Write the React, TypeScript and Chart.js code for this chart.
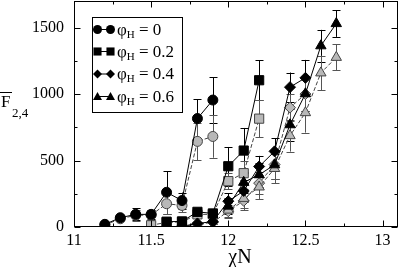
import React, { useEffect, useRef } from 'react';
import { Chart, registerables } from 'chart.js';
Chart.register(...registerables);

const FONT = '"Liberation Serif", "Times New Roman", serif';

const xTickLabels = [11, 11.5, 12, 12.5, 13];
const yTickLabels = [0, 500, 1000, 1500];

// phi_H = 0 (circles)
const x0Black = [11.2, 11.3, 11.4, 11.5, 11.6, 11.7, 11.8, 11.9];
const y0Black = [20, 70, 95, 95, 261, 199, 816, 955];
const e0Black = [10, 20, 45, 35, 160, 60, 145, 170];
const x0Gray = [11.2, 11.3, 11.4, 11.5, 11.6, 11.7, 11.8, 11.9];
const y0Gray = [15, 62, 88, 90, 175, 162, 644, 681];
const e0Gray = [10, 20, 40, 35, 80, 50, 140, 160];

// phi_H = 0.2 (squares)
const x2Black = [11.6, 11.7, 11.8, 11.9, 12.0, 12.1, 12.2];
const y2Black = [40, 42, 114, 102, 457, 575, 1104];
const e2Black = [10, 12, 25, 25, 145, 170, 150];
const x2Gray = [11.5, 11.6, 11.7, 11.8, 11.9, 12.0, 12.1, 12.2];
const y2Gray = [13, 35, 38, 95, 95, 345, 405, 815];
const e2Gray = [8, 10, 12, 20, 20, 60, 90, 140];

// phi_H = 0.4 (diamonds)
const x4Black = [11.7, 11.8, 11.9, 12.0, 12.1, 12.2, 12.3, 12.4, 12.5];
const y4Black = [5, 27, 40, 194, 271, 455, 569, 1052, 1122];
const e4Black = [5, 10, 15, 60, 80, 80, 100, 110, 135];
const x4Gray = [11.7, 11.8, 11.9, 12.0, 12.1, 12.2, 12.3, 12.4, 12.5];
const y4Gray = [4, 20, 35, 119, 197, 330, 470, 898, 1000];
const e4Gray = [5, 10, 15, 50, 70, 80, 110, 100, 130];

// phi_H = 0.6 (triangles)
const x6Black = [12.0, 12.1, 12.2, 12.3, 12.4, 12.5, 12.6, 12.7];
const y6Black = [157, 336, 393, 468, 769, 1002, 1363, 1530];
const e6Black = [60, 80, 90, 110, 120, 130, 120, 100];
const x6Gray = [12.0, 12.1, 12.2, 12.3, 12.4, 12.5, 12.6, 12.7];
const y6Gray = [127, 215, 301, 440, 687, 860, 1159, 1276];
const e6Gray = [50, 70, 90, 110, 120, 150, 130, 97];

const legendLabels = ['0', '0.2', '0.4', '0.6'];
const legendShapes = ['circle', 'rect', 'rectRot', 'triangle'];

const GRAY_FILL = '#b8b8b8';
const GRAY_LINE = '#444';

function mk(xs: number[], ys: number[], errs: number[], shape: string, black: boolean, radius: number) {
  return {
    data: xs.map((x, i) => ({ x, y: ys[i] })),
    errs,
    errColor: black ? '#000' : '#555',
    pointStyle: shape,
    pointRadius: radius,
    pointBackgroundColor: black ? '#000' : GRAY_FILL,
    pointBorderColor: black ? '#000' : GRAY_LINE,
    pointBorderWidth: 1,
    borderColor: black ? '#000' : GRAY_LINE,
    borderWidth: 1,
    borderDash: black ? [] : [4, 2],
    showLine: true,
    fill: false,
    tension: 0,
  };
}

function drawShape(ctx: CanvasRenderingContext2D, shape: string, x: number, y: number, r: number) {
  ctx.beginPath();
  if (shape === 'circle') {
    ctx.arc(x, y, r, 0, Math.PI * 2);
  } else if (shape === 'rect') {
    ctx.rect(x - r * 0.9, y - r * 0.9, r * 1.8, r * 1.8);
  } else if (shape === 'rectRot') {
    ctx.moveTo(x - r, y); ctx.lineTo(x, y - r); ctx.lineTo(x + r, y); ctx.lineTo(x, y + r); ctx.closePath();
  } else {
    ctx.moveTo(x - r, y + r * 0.8); ctx.lineTo(x, y - r); ctx.lineTo(x + r, y + r * 0.8); ctx.closePath();
  }
  ctx.fill();
}

const errorBarPlugin = {
  id: 'errorBars',
  beforeDatasetsDraw(chart: any) {
    const ctx = chart.ctx;
    const ys = chart.scales.y;
    chart.data.datasets.forEach((ds: any, di: number) => {
      const meta = chart.getDatasetMeta(di);
      ctx.save();
      ctx.strokeStyle = ds.errColor;
      ctx.lineWidth = 1;
      meta.data.forEach((pt: any, i: number) => {
        const v = ds.data[i].y;
        const e = ds.errs[i];
        const top = ys.getPixelForValue(v + e);
        const bot = ys.getPixelForValue(Math.max(v - e, 0));
        const x = Math.round(pt.x) + 0.5;
        ctx.beginPath();
        ctx.moveTo(x, top); ctx.lineTo(x, bot);
        ctx.moveTo(x - 4, Math.round(top) + 0.5); ctx.lineTo(x + 4, Math.round(top) + 0.5);
        if (v - e > 0) { ctx.moveTo(x - 4, Math.round(bot) + 0.5); ctx.lineTo(x + 4, Math.round(bot) + 0.5); }
        ctx.stroke();
      });
      ctx.restore();
    });
  },
};

const framePlugin = {
  id: 'frame',
  afterDraw(chart: any) {
    const ctx = chart.ctx;
    const { left, right, top, bottom } = chart.chartArea;
    const xs = chart.scales.x;
    const ys = chart.scales.y;
    ctx.save();
    ctx.strokeStyle = '#000';
    ctx.lineWidth = 1;
    const L = Math.round(left) + 0.5, R = Math.round(right) - 0.5, T = Math.round(top) + 0.5, B = Math.round(bottom) - 0.5;
    ctx.strokeRect(L, T, R - L, B - T);
    ctx.beginPath();
    for (let v = 11; v <= 13.001; v += 0.25) {
      const x = Math.round(xs.getPixelForValue(v)) + 0.5;
      const len = Math.abs(v * 2 - Math.round(v * 2)) < 1e-6 ? 6 : 3;
      ctx.moveTo(x, B); ctx.lineTo(x, B - len);
      ctx.moveTo(x, T); ctx.lineTo(x, T + len);
    }
    for (let v = 0; v <= 1700; v += 250) {
      const y = Math.round(ys.getPixelForValue(v)) + 0.5;
      const len = v % 500 === 0 ? 6 : 3;
      ctx.moveTo(L, y); ctx.lineTo(L + len, y);
      ctx.moveTo(R, y); ctx.lineTo(R - len, y);
    }
    ctx.stroke();

    // axis titles
    ctx.fillStyle = '#000';
    ctx.textBaseline = 'alphabetic';
    ctx.textAlign = 'center';
    ctx.font = `20px ${FONT}`;
    ctx.fillText('\u03C7N', 240, 263);
    ctx.textAlign = 'left';
    ctx.font = `17px ${FONT}`;
    ctx.fillText('F', 1, 107);
    ctx.beginPath();
    ctx.moveTo(0, 92.5); ctx.lineTo(12, 92.5);
    ctx.stroke();
    ctx.font = `13px ${FONT}`;
    ctx.fillText('2,4', 12, 117);

    // legend
    ctx.strokeRect(92.5, 17.5, 90, 95);
    const rowYs = [29.5, 51.5, 74, 96.5];
    legendLabels.forEach((lab, i) => {
      const y = rowYs[i];
      ctx.fillStyle = '#000';
      ctx.beginPath();
      ctx.moveTo(97, y); ctx.lineTo(111, y);
      ctx.stroke();
      drawShape(ctx, legendShapes[i], 97.5, y, 4.5);
      drawShape(ctx, legendShapes[i], 110.5, y, 4.5);
      ctx.font = `17px ${FONT}`;
      ctx.fillText('\u03C6', 117, y + 5);
      const w1 = ctx.measureText('\u03C6').width;
      ctx.font = `11px ${FONT}`;
      ctx.fillText('H', 117 + w1, y + 8);
      const w2 = ctx.measureText('H').width;
      ctx.font = `17px ${FONT}`;
      ctx.fillText(' = ' + lab, 117 + w1 + w2, y + 5);
    });
    ctx.restore();
  },
};

export default function App() {
  const ref = useRef<HTMLCanvasElement>(null);
  useEffect(() => {
    if (!ref.current) return;
    const datasets = [
      mk(x6Black, y6Black, e6Black, 'triangle', true, 6),
      mk(x4Black, y4Black, e4Black, 'rectRot', true, 5.5),
      mk(x2Black, y2Black, e2Black, 'rect', true, 6.5),
      mk(x0Black, y0Black, e0Black, 'circle', true, 5),
      mk(x6Gray, y6Gray, e6Gray, 'triangle', false, 6),
      mk(x4Gray, y4Gray, e4Gray, 'rectRot', false, 5.5),
      mk(x2Gray, y2Gray, e2Gray, 'rect', false, 6.5),
      mk(x0Gray, y0Gray, e0Gray, 'circle', false, 5),
    ];
    const chart = new Chart(ref.current, {
      type: 'scatter',
      data: { datasets: datasets as any },
      plugins: [errorBarPlugin, framePlugin],
      options: {
        animation: false,
        responsive: false,
        layout: { autoPadding: false, padding: { top: 1, right: 1, left: 0, bottom: 0 } },
        plugins: { legend: { display: false }, tooltip: { enabled: false } },
        scales: {
          x: {
            type: 'linear',
            min: 11,
            max: 13.1,
            afterBuildTicks: (s: any) => { s.ticks = xTickLabels.map((v) => ({ value: v })); },
            afterFit: (s: any) => { s.height = 40; s.paddingLeft = 0; s.paddingRight = 0; },
            grid: { display: false },
            border: { display: false },
            ticks: {
              color: '#000',
              font: { family: FONT, size: 16 },
              padding: -4,
              maxRotation: 0,
              autoSkip: false,
              callback: (v: any) => String(v),
            },
          },
          y: {
            type: 'linear',
            min: 0,
            max: 1700,
            afterBuildTicks: (s: any) => { s.ticks = yTickLabels.map((v) => ({ value: v })); },
            afterFit: (s: any) => { s.width = 74; s.paddingTop = 0; s.paddingBottom = 0; },
            grid: { display: false },
            border: { display: false },
            ticks: {
              color: '#000',
              font: { family: FONT, size: 16 },
              padding: 2,
              autoSkip: false,
              callback: (v: any) => String(v),
            },
          },
        },
      },
    });
    return () => chart.destroy();
  }, []);
  return (
    <div style={{ position: 'fixed', left: 0, top: 0, width: 399, height: 267, background: '#fff' }}>
      <canvas ref={ref} width={399} height={267} style={{ display: 'block' }} />
    </div>
  );
}
